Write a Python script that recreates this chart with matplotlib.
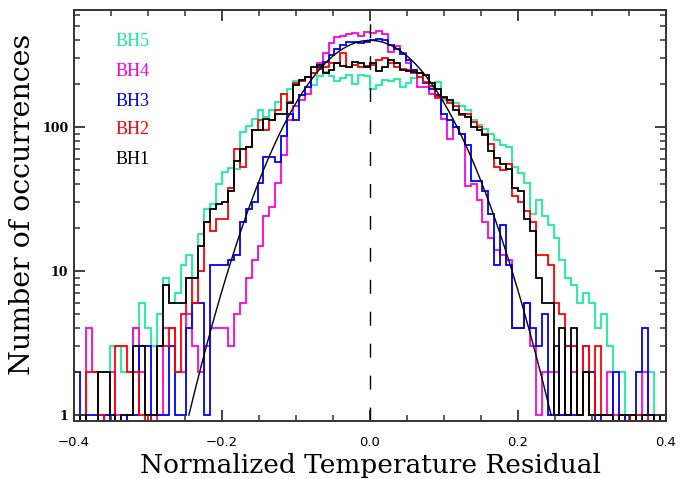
import numpy as np
import matplotlib
matplotlib.use("Agg")
import matplotlib.pyplot as plt
from matplotlib.ticker import FixedLocator, LogLocator, NullFormatter, FixedFormatter

# ---- data: histogram counts, 100 bins of width 0.008 from -0.4 to 0.4 ----
bin_lo, bin_hi, n_bins = -0.4, 0.4, 100

bh1 = [0, 1, 0, 0, 2, 2, 1, 0, 1, 1, 3, 3, 1, 1, 3, 8, 6, 6, 6, 9, 9, 15, 22, 27, 29,
       30, 36, 58, 70, 73, 95, 95, 114, 112, 123, 124, 146, 196, 212, 224, 262, 270, 236, 249, 280, 265, 262, 285, 280, 262,
       279, 245, 262, 290, 277, 249, 245, 240, 236, 230, 201, 185, 162, 154, 132, 124, 118, 100, 95, 88, 68, 61, 55, 51, 38,
       36, 23, 19, 9, 6, 6, 1, 4, 1, 4, 1, 2, 1, 1, 1, 1, 0, 1, 1, 1, 0, 1, 1, 0, 1]

bh2 = [0, 0, 2, 2, 1, 0, 0, 3, 3, 2, 2, 1, 0, 1, 3, 3, 4, 2, 5, 9, 6, 10, 22, 19, 23,
       23, 38, 70, 53, 73, 95, 112, 95, 112, 131, 170, 150, 201, 210, 224, 236, 255, 262, 280, 277, 325, 262, 270, 262, 265,
       270, 292, 300, 277, 262, 252, 249, 238, 224, 205, 192, 162, 160, 146, 140, 121, 124, 108, 100, 90, 76, 53, 50, 55, 33,
       30, 26, 22, 13, 13, 11, 6, 5, 3, 3, 1, 3, 1, 3, 1, 1, 0, 1, 1, 0, 1, 1, 0, 1, 0]

bh3 = [2, 0, 1, 1, 1, 1, 0, 0, 0, 1, 1, 3, 3, 1, 1, 1, 3, 1, 1, 4, 6, 6, 1, 11, 11,
       11, 12, 13, 22, 27, 30, 41, 62, 62, 57, 86, 124, 112, 167, 190, 236, 262, 285, 318, 348, 371, 391, 391, 382, 391,
       402, 410, 402, 370, 350, 320, 292, 250, 236, 201, 185, 166, 124, 112, 100, 90, 75, 42, 42, 36, 25, 11, 21, 11, 4,
       4, 6, 4, 3, 5, 1, 3, 1, 3, 1, 1, 2, 2, 0, 1, 1, 2, 1, 0, 1, 2, 4, 1, 1, 1]

bh4 = [0, 0, 4, 2, 0, 1, 2, 1, 0, 1, 4, 2, 1, 0, 1, 4, 4, 2, 2, 5, 3, 2, 3, 4, 4,
       4, 3, 5, 6, 9, 12, 15, 24, 28, 41, 64, 112, 140, 155, 170, 236, 279, 325, 382, 424, 430, 440, 450, 430, 460,
       450, 465, 440, 330, 365, 325, 280, 250, 190, 190, 170, 158, 113, 83, 100, 90, 39, 40, 31, 22, 17, 14, 13, 12, 4,
       4, 6, 3, 1, 2, 2, 2, 1, 1, 2, 1, 3, 1, 1, 1, 2, 1, 0, 1, 1, 1, 2, 1, 1, 0]

bh5 = [0, 0, 0, 0, 2, 2, 3, 3, 2, 2, 4, 6, 4, 3, 5, 9, 6, 7, 11, 13, 9, 18, 27, 29, 40,
       49, 52, 51, 92, 101, 114, 131, 118, 131, 150, 171, 183, 210, 208, 224, 196, 226, 240, 226, 210, 220, 230, 198, 230, 226,
       185, 195, 212, 210, 214, 190, 201, 218, 224, 205, 190, 205, 154, 150, 146, 140, 132, 112, 103, 97, 90, 81, 75, 73, 53,
       48, 41, 25, 31, 24, 21, 17, 12, 9, 8, 6, 7, 6, 4, 5, 3, 2, 2, 1, 1, 1, 1, 2, 1, 1]

series_names = ["BH5", "BH4", "BH3", "BH2", "BH1"]
series_colors = ["#14f09c", "#ff00dd", "#0000ff", "#ff0000", "#000000"]

# Gaussian reference curve parameters
gauss_amp = 400.0
gauss_sigma = 0.0707

x_ticks = [-0.4, -0.2, 0.0, 0.2, 0.4]
x_tick_labels = ["\u22120.4", "\u22120.2", "0.0", "0.2", "0.4"]
y_ticks = [1, 10, 100]
y_tick_labels = ["1", "10", "100"]

# ---- figure ----
W, H = 691, 479
fig = plt.figure(figsize=(W / 100, H / 100), dpi=100)
ax_l, ax_r, ax_t, ax_b = 74, 666, 9.5, 421
ax = fig.add_axes([ax_l / W, 1 - ax_b / H, (ax_r - ax_l) / W, (ax_b - ax_t) / H])

edges = np.linspace(bin_lo, bin_hi, n_bins + 1)
data = {"BH1": bh1, "BH2": bh2, "BH3": bh3, "BH4": bh4, "BH5": bh5}

for name, col in zip(series_names, series_colors):
    vals = np.asarray(data[name], dtype=float)
    vals = np.where(vals > 0, vals, 0.3)
    ax.stairs(vals, edges, color=col, lw=1.3, baseline=None)

xmax = gauss_sigma * np.sqrt(2 * np.log(gauss_amp))
xg = np.linspace(-xmax, xmax, 400)
ax.plot(xg, gauss_amp * np.exp(-xg ** 2 / (2 * gauss_sigma ** 2)), color="black", lw=1.0)

ax.axvline(0.0, color="black", lw=1.0, dashes=(10, 13))

ax.set_yscale("log")
ax.set_xlim(-0.4, 0.4)
ax.set_ylim(0.91, 655)

ax.xaxis.set_major_locator(FixedLocator(x_ticks))
ax.xaxis.set_major_formatter(FixedFormatter(x_tick_labels))
ax.xaxis.set_minor_locator(FixedLocator(np.arange(-0.4, 0.401, 0.05)))
ax.yaxis.set_major_locator(FixedLocator(y_ticks))
ax.yaxis.set_major_formatter(FixedFormatter(y_tick_labels))
ax.yaxis.set_minor_locator(LogLocator(base=10, subs=np.arange(2, 10)))
ax.yaxis.set_minor_formatter(NullFormatter())

ax.tick_params(which="both", direction="in", top=True, right=True, color="#333333")
ax.tick_params(which="major", length=8, width=1.3)
ax.tick_params(which="minor", length=4, width=1.1)
ax.tick_params(axis="x", which="major", labelsize=9.5, pad=11)
ax.tick_params(axis="y", which="major", labelsize=9, pad=4)
for lab in ax.get_xticklabels():
    lab.set_fontfamily("DejaVu Sans")
for lab in ax.get_yticklabels():
    lab.set_fontfamily("DejaVu Serif")
    lab.set_fontweight("bold")
for s in ax.spines.values():
    s.set_linewidth(1.4)
    s.set_color("#333333")

fig.text(370 / W, 1 - 473 / H, "Normalized Temperature Residual", ha="center", va="baseline",
         fontsize=19, family="DejaVu Serif")
fig.text(23 / W, 1 - 204 / H, "Number of occurrences", ha="center", va="center",
         rotation=90, fontsize=20.5, family="DejaVu Serif")

legend_y = [42, 72, 101, 130, 160]
for name, col, yy in zip(series_names, series_colors, legend_y):
    fig.text(116 / W, 1 - yy / H, name, ha="left", va="center", color=col,
             fontsize=13, family="Liberation Serif")

fig.savefig("out.png", dpi=100)
